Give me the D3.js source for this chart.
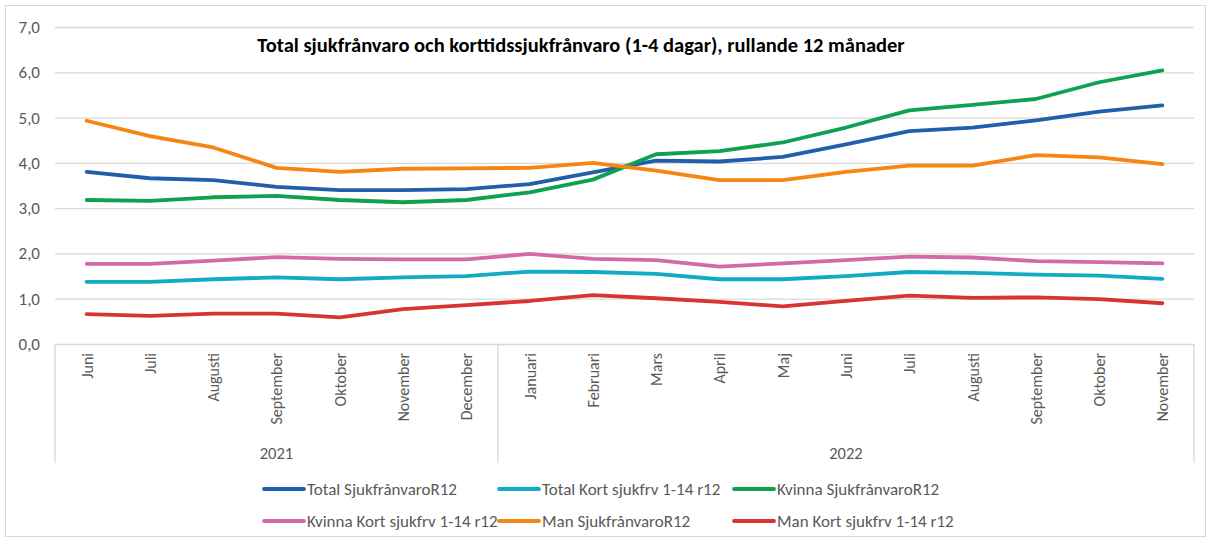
<!DOCTYPE html>
<html>
<head>
<meta charset="utf-8">
<script src="https://cdn.jsdelivr.net/npm/d3@7"></script>
<style>
  body { margin: 0; background: #fff; }
  svg { display: block; font-family: Carlito, Lato, "Open Sans", sans-serif; }
</style>
</head>
<body>
<svg id="chart" width="1212" height="542"></svg>
<script>
const months = ['Juni', 'Juli', 'Augusti', 'September', 'Oktober', 'November', 'December',
    'Januari', 'Februari', 'Mars', 'April', 'Maj', 'Juni', 'Juli', 'Augusti', 'September', 'Oktober', 'November'];
const years = [{label: '2021', from: 0, to: 6}, {label: '2022', from: 7, to: 17}];
const yTicks = [0, 1, 2, 3, 4, 5, 6, 7];

const totalSjuk = [3.80, 3.66, 3.62, 3.47, 3.40, 3.40, 3.42, 3.53, 3.79, 4.05, 4.03, 4.13, 4.41, 4.70, 4.78, 4.94, 5.13, 5.27];
const totalKort = [1.37, 1.37, 1.43, 1.47, 1.43, 1.47, 1.50, 1.60, 1.59, 1.55, 1.43, 1.43, 1.50, 1.59, 1.57, 1.53, 1.51, 1.44];
const kvinnaSjuk = [3.18, 3.16, 3.24, 3.27, 3.18, 3.13, 3.18, 3.35, 3.63, 4.19, 4.26, 4.45, 4.78, 5.16, 5.28, 5.41, 5.78, 6.04];
const kvinnaKort = [1.77, 1.77, 1.84, 1.92, 1.88, 1.87, 1.87, 1.99, 1.88, 1.85, 1.71, 1.78, 1.85, 1.93, 1.91, 1.83, 1.81, 1.78];
const manSjuk = [4.93, 4.59, 4.34, 3.89, 3.80, 3.87, 3.88, 3.89, 4.00, 3.83, 3.62, 3.62, 3.80, 3.94, 3.94, 4.17, 4.12, 3.97];
const manKort = [0.66, 0.62, 0.67, 0.67, 0.59, 0.77, 0.86, 0.95, 1.08, 1.01, 0.93, 0.83, 0.95, 1.07, 1.02, 1.03, 0.99, 0.90];

const series = [
    {name: 'Total SjukfrånvaroR12', values: totalSjuk, color: '#1f5fab'},
    {name: 'Total Kort sjukfrv 1-14 r12', values: totalKort, color: '#12abc4'},
    {name: 'Kvinna SjukfrånvaroR12', values: kvinnaSjuk, color: '#0ea14f'},
    {name: 'Kvinna Kort sjukfrv 1-14 r12', values: kvinnaKort, color: '#d36aa8'},
    {name: 'Man SjukfrånvaroR12', values: manSjuk, color: '#f68513'},
    {name: 'Man Kort sjukfrv 1-14 r12', values: manKort, color: '#d83434'}
];

const svg = d3.select('#chart');
const plotLeft = 55, plotRight = 1194, plotTop = 27, plotBottom = 344;

// chart border
svg.append('rect')
    .attr('x', 5.5).attr('y', 5.5).attr('width', 1200).attr('height', 531)
    .attr('fill', 'none').attr('stroke', '#d9d9d9');

const x = d3.scaleBand().domain(d3.range(months.length)).range([plotLeft, plotRight]);
const y = d3.scaleLinear().domain([0, 7]).range([plotBottom, plotTop]);

// gridlines + y labels
const yAxis = svg.append('g')
    .attr('transform', `translate(${plotLeft},0)`)
    .call(d3.axisLeft(y).tickValues(yTicks).tickSize(-(plotRight - plotLeft)).tickFormat(d => d3.format('.1f')(d).replace('.', ',')));
yAxis.select('.domain').remove();
yAxis.selectAll('.tick line').attr('stroke', '#d9d9d9').attr('stroke-width', 1.3);
yAxis.selectAll('.tick text')
    .attr('x', -15).attr('fill', '#595959').style('font-size', '17px')
    .style('font-family', 'Carlito, Lato, sans-serif');

// month labels
svg.append('g').selectAll('text')
    .data(months)
    .enter()
    .append('text')
    .attr('transform', (d, i) => `translate(${x(i) + x.bandwidth() / 2 + 6},353) rotate(-90)`)
    .attr('text-anchor', 'end')
    .attr('fill', '#595959')
    .style('font-size', '16px')
    .text(d => d);

// year group separators
const sep = [0, 7, 18].map(i => i === 18 ? plotRight : x(i));
svg.append('g').selectAll('line')
    .data(sep)
    .enter()
    .append('line')
    .attr('x1', d => d).attr('x2', d => d)
    .attr('y1', plotBottom).attr('y2', 463)
    .attr('stroke', '#d9d9d9').attr('stroke-width', 1.3);

svg.append('g').selectAll('text')
    .data(years)
    .enter()
    .append('text')
    .attr('x', d => (x(d.from) + x(d.to) + x.bandwidth()) / 2)
    .attr('y', 459)
    .attr('text-anchor', 'middle')
    .attr('fill', '#595959')
    .style('font-size', '16.5px')
    .text(d => d.label);

// lines
const line = d3.line()
    .x((d, i) => x(i) + x.bandwidth() / 2)
    .y(d => y(d));

svg.append('g').selectAll('path')
    .data(series)
    .enter()
    .append('path')
    .attr('d', d => line(d.values))
    .attr('fill', 'none')
    .attr('stroke', d => d.color)
    .attr('stroke-width', 3.8)
    .attr('stroke-linejoin', 'round')
    .attr('stroke-linecap', 'round');

// title
svg.append('text')
    .attr('x', 581).attr('y', 52)
    .attr('text-anchor', 'middle')
    .attr('font-weight', 'bold')
    .style('font-size', '20.5px')
    .attr('fill', '#000')
    .text('Total sjukfrånvaro och korttidssjukfrånvaro (1-4 dagar), rullande 12 månader');

// legend
const legendPos = [[264, 489], [499, 489], [734, 489], [264, 521], [499, 521], [734, 521]];
const legend = svg.append('g').selectAll('g')
    .data(series)
    .enter()
    .append('g')
    .attr('transform', (d, i) => `translate(${legendPos[i][0]},${legendPos[i][1]})`);
legend.append('line')
    .attr('x1', 0).attr('x2', 40)
    .attr('stroke', d => d.color)
    .attr('stroke-width', 3.8)
    .attr('stroke-linecap', 'round');
legend.append('text')
    .attr('x', 43).attr('y', 6)
    .attr('fill', '#595959')
    .style('font-size', '17px')
    .text(d => d.name);
</script>
</body>
</html>
